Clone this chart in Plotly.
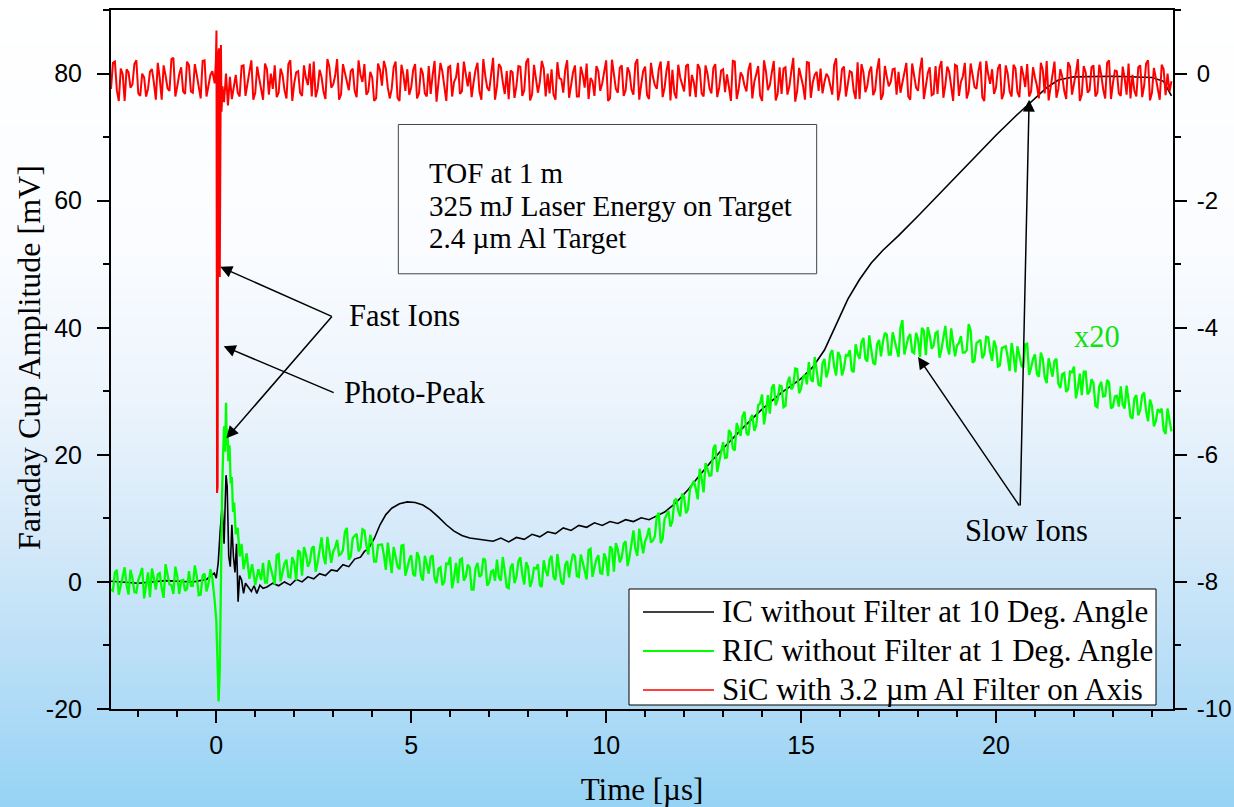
import base64, struct, zlib
import plotly.graph_objects as go

# ---------------- data ----------------
# IC without filter (black), left axis [mV]
ic_t = [-2.7, -2.0, -1.3, -0.6, -0.25, -0.05, 0.0, 0.05, 0.1, 0.15, 0.2, 0.25, 0.28, 0.32, 0.36, 0.4,
        0.44, 0.48, 0.52, 0.56, 0.6, 0.65, 0.7, 0.75, 0.82, 0.9, 0.97, 1.04, 1.12, 1.2,
        1.3, 1.45, 1.6, 1.75, 1.9, 2.05, 2.2, 2.35, 2.5, 2.65, 2.8, 2.95, 3.1, 3.25, 3.4, 3.55, 3.7,
        3.8, 3.9, 4.05, 4.2, 4.35, 4.5, 4.7, 4.9, 5.1, 5.3, 5.5, 5.7, 5.9, 6.1, 6.3, 6.5, 6.8,
        7.1, 7.3, 7.5, 7.7, 7.9, 8.1, 8.3, 8.5, 8.7, 8.9, 9.1, 9.3, 9.5, 9.7, 9.9, 10.1, 10.3, 10.5,
        10.7, 10.9, 11.1, 11.3, 11.5, 11.8, 12.1, 12.4, 12.7, 13.0, 13.5, 14.0, 14.5, 15.0, 15.3,
        15.6, 15.9, 16.2, 16.5, 16.8, 17.1, 17.5, 18.0, 18.5, 19.0, 19.5, 20.0, 20.5, 21.0, 21.3,
        21.6, 22.0, 23.0, 24.0, 24.3, 24.5]
ic_v = [0.1, -0.2, 0.2, 0.0, 0.4, 1.4, 0.6, 3.0, 8.0, 12.0, 6.0, 16.8, 15.0, 4.0, 2.4, 9.0,
        4.0, 1.5, 6.0, -3.1, 1.0, 0.3, -1.8, -0.2, -0.8, -1.5, -0.6, -1.8, -0.5, -1.0,
        -0.8, -0.2, -0.6, 0.0, -0.5, 0.4, 0.0, 0.8, 0.5, 1.3, 1.0, 1.9, 1.7, 2.7, 2.4, 3.6, 3.9,
        4.8, 5.2, 6.8, 9.0, 10.6, 11.6, 12.3, 12.6, 12.5, 12.1, 11.3, 10.2, 9.0, 8.0, 7.3, 6.9, 6.6,
        6.4, 6.9, 6.3, 7.0, 6.7, 7.5, 7.1, 7.9, 7.6, 8.5, 8.1, 8.9, 8.6, 9.3, 8.9, 9.5, 9.2, 9.8,
        9.5, 10.1, 9.8, 10.4, 11.0, 12.5, 14.5, 16.8, 19.0, 21.0, 24.2, 27.2, 29.8, 32.0, 33.8,
        36.5, 40.5, 44.5, 47.6, 50.2, 52.2, 54.5, 57.6, 60.8, 64.0, 67.2, 70.3, 73.3, 76.2, 77.8,
        79.0, 79.5, 79.6, 79.4, 78.8, 76.5]

# oscilloscope sample spacing for the noisy traces [us]
SAMPLE_STEP = 0.05

# RIC without filter (green), left axis [mV]
ric_pre_start = -2.7
ric_pre = [-1.2, -1.4, 1.5, 1.9, -2.0, -0.8, 0.8, 2.3, -0.5, -2.0, 1.9, 0.6, -1.6, -1.7, 0.3, 1.2,
           2.2, -2.6, -0.8, 1.5, -2.4, 2.1, 0.6, -1.2, 1.2, 1.4, -1.0, -2.5, 2.8, 0.9, -0.4, -0.5,
           -1.9, 2.4, 1.0, -1.9, 0.2, 0.3, -1.4, -1.1, 1.7, -0.6, -0.6, 2.6, 0.9, -2.1, -2.0, 1.0,
           1.3, -1.5, -0.3, 2.0, 0.5]
ric_burst_t = [-0.04, 0.0, 0.03, 0.06, 0.09, 0.11, 0.13, 0.15, 0.17, 0.2, 0.23, 0.25, 0.27, 0.29, 0.31,
               0.34, 0.37, 0.4, 0.43, 0.46, 0.5, 0.55, 0.6, 0.65, 0.7, 0.78, 0.85, 0.92, 1.0, 1.08, 1.15]
ric_burst_v = [-3.0, -6.0, -12.0, -18.8, -14.0, -2.0, 8.5, 14.0, 19.0, 24.5, 20.5, 28.2, 21.5, 24.0, 19.0,
               21.5, 15.5, 16.5, 11.0, 12.5, 7.5, 8.5, 4.0, 6.0, 2.0, 4.5, 0.5, 2.8, -0.5, 2.0, 0.3]
ric_post_start = 1.2
ric_post = [
    3.0, -0.1, -0.1, 3.4, 2.2, 0.9, -0.4, 4.2, 4.4, 0.1, 1.8, 2.9, 3.5, 0.8, 0.7, 3.9, 3.0, 0.3, 5.0, 4.6,
    1.0, 5.5, 4.4, 2.4, 3.1, 5.3, 5.6, 1.6, 3.0, 5.2, 7.0, 4.0, 2.8, 7.1, 5.2, 3.0, 4.8, 5.4, 6.6, 4.2,
    4.4, 5.0, 7.9, 8.5, 3.5, 4.0, 6.9, 7.3, 7.6, 4.8, 5.4, 8.3, 8.1, 5.8, 4.3, 7.4, 6.3, 3.2, 3.2, 5.8,
    5.8, 5.9, 4.2, 1.9, 6.2, 4.1, 1.4, 5.5, 4.1, 2.4, 2.0, 5.7, 5.8, 1.0, 2.1, 3.5, 4.2, 1.2, 0.9, 4.7,
    3.9, 1.0, 0.2, 4.1, 2.8, 1.3, 3.9, 4.2, 0.5, -0.2, 2.1, 2.3, -0.5, 0.0, 2.9, 2.8, 3.9, -1.0, 0.7, 3.0,
    -0.2, 3.5, 3.7, 0.2, 0.8, 2.7, 2.3, -1.2, -1.2, 2.2, 3.0, 0.8, 1.1, 3.7, 3.4, -0.6, -0.1, 1.6, 1.8, 0.2,
    3.5, 0.7, 0.2, 3.9, 1.7, -0.8, -1.0, 2.3, 2.9, -0.2, 0.8, 3.3, 3.9, 1.1, -0.4, 3.1, 2.3, -0.8, 0.2, 2.2,
    2.1, 2.8, -0.5, -0.8, 3.4, 1.8, 0.9, 3.5, 4.1, 0.8, 0.3, 4.4, 2.1, 0.0, -0.4, 2.7, 3.3, 0.7, 2.9, 4.4,
    4.0, 0.9, 0.8, 4.3, 3.1, 1.7, 0.4, 5.0, 5.2, 0.8, 2.5, 3.6, 4.2, 1.4, 1.3, 4.5, 3.6, 0.9, 5.6, 5.2,
    1.6, 6.1, 5.1, 3.1, 3.8, 6.0, 6.4, 2.5, 3.9, 6.2, 8.1, 5.2, 4.1, 8.4, 6.6, 4.5, 6.4, 7.2, 8.5, 6.2,
    6.5, 7.2, 10.3, 10.9, 6.1, 6.8, 9.9, 10.5, 11.2, 8.7, 9.6, 12.8, 13.1, 11.2, 10.3, 13.9, 13.4, 10.8, 11.4, 14.6,
    15.2, 15.9, 14.7, 13.0, 17.8, 16.3, 14.1, 18.7, 17.8, 16.7, 16.8, 21.0, 21.6, 17.3, 18.9, 20.8, 22.0, 19.5, 19.6, 23.9,
    23.4, 21.0, 20.7, 25.0, 24.1, 23.0, 26.1, 26.8, 23.4, 23.1, 25.7, 26.3, 23.8, 24.6, 27.8, 28.1, 29.5, 24.8, 26.8, 29.4,
    26.5, 30.6, 31.1, 27.8, 28.7, 30.9, 30.8, 27.5, 27.7, 31.3, 32.3, 30.3, 30.8, 33.6, 33.5, 29.7, 30.4, 32.2, 32.6, 31.1,
    34.6, 31.9, 31.5, 35.4, 33.3, 31.0, 30.9, 34.4, 35.1, 32.2, 33.3, 35.9, 36.5, 33.9, 32.5, 36.2, 35.5, 32.5, 33.6, 35.7,
    35.6, 36.5, 33.3, 33.0, 37.4, 35.9, 35.1, 37.7, 38.4, 35.1, 34.7, 38.8, 36.6, 34.5, 34.2, 37.4, 38.1, 35.5, 37.8, 39.2,
    38.9, 35.8, 35.8, 39.3, 38.0, 36.7, 35.4, 40.0, 41.2, 35.8, 37.4, 38.5, 39.0, 36.2, 36.0, 39.2, 38.2, 35.4, 40.0, 39.5,
    35.7, 40.1, 38.8, 36.7, 37.2, 39.2, 39.4, 35.3, 36.6, 38.6, 40.3, 37.1, 35.8, 39.9, 37.9, 35.5, 37.2, 37.6, 38.7, 36.1,
    36.1, 36.5, 40.6, 39.6, 34.5, 34.8, 37.6, 37.8, 38.1, 35.2, 35.8, 38.6, 38.5, 36.2, 34.8, 38.0, 37.0, 33.9, 34.1, 36.8,
    36.9, 37.1, 35.4, 33.2, 37.6, 35.7, 33.0, 37.1, 35.7, 34.1, 33.7, 37.4, 37.5, 32.6, 33.7, 35.1, 35.8, 32.7, 32.3, 36.1,
    35.1, 32.2, 31.3, 35.2, 33.8, 32.3, 34.8, 35.1, 31.2, 30.5, 32.7, 32.9, 29.9, 30.3, 33.1, 33.0, 33.9, 28.9, 30.5, 32.8,
    29.4, 33.1, 33.1, 29.5, 30.0, 31.9, 31.3, 27.7, 27.5, 30.8, 31.5, 29.2, 29.3, 31.8, 31.4, 27.3, 27.6, 29.2, 29.3, 27.6,
    30.8, 27.9, 27.3, 30.9, 28.6, 26.0, 25.7, 28.9, 29.4, 26.2, 27.1, 29.4, 29.8, 26.9, 25.3, 28.7, 27.7, 24.5, 25.3, 27.2,
    26.8, 27.3, 23.9, 23.3, 27.3, 25.4, 23.7]

# SiC with 3.2 um Al filter (red), right axis
sic_pre_start = -2.7
sic_pre = [-0.24, 0.17, 0.19, -0.26, -0.43, 0.08, -0.01, -0.43, 0.07, 0.02, -0.22, -0.17, 0.15, 0.21,
           -0.31, -0.35, 0.00, -0.06, -0.36, -0.24, 0.03, 0.07, -0.14, -0.41, 0.17, -0.07, -0.41, 0.13,
           -0.03, -0.23, -0.27, 0.23, 0.25, -0.36, -0.20, -0.01, 0.10, -0.28, -0.32, 0.19, 0.13, -0.28,
           -0.30, 0.15, -0.02, -0.20, -0.39, 0.20, 0.21, -0.36, -0.15, -0.02, 0.04]
sic_burst_t = [-0.04, -0.01, 0.005, 0.02, 0.035, 0.05, 0.07, 0.09, 0.105, 0.12, 0.135, 0.16, 0.2,
               0.25, 0.3, 0.35, 0.4, 0.45]
sic_burst_v = [-0.15, 0.2, 0.68, -6.6, -6.5, 0.3, 0.4, -3.2, -0.1, 0.45, -0.6, -0.2, -0.45,
               0.0, -0.5, -0.05, -0.4, -0.2]
sic_post_start = 0.5
sic_post = [
    -0.02, -0.30, -0.36, 0.12, 0.13, -0.35, -0.19, 0.03, 0.21, -0.41, -0.30, 0.11, -0.07, -0.28, -0.41, 0.16, 0.07, -0.33, 0.00, -0.24,
    0.13, -0.37, -0.30, 0.08, -0.02, -0.26, -0.39, 0.15, 0.21, -0.43, -0.15, 0.02, 0.04, -0.30, -0.35, 0.13, -0.07, -0.18, 0.16, -0.36,
    0.19, -0.37, -0.24, 0.06, -0.05, -0.28, -0.40, 0.23, 0.11, -0.22, -0.17, -0.03, 0.23, -0.41, -0.33, 0.15, 0.02, -0.14, -0.26, 0.04,
    0.08, -0.27, -0.37, 0.21, -0.02, -0.13, 0.15, -0.33, -0.28, 0.03, -0.06, -0.43, -0.39, 0.16, 0.06, -0.19, 0.20, 0.08, -0.22, -0.39,
    -0.24, 0.10, 0.19, -0.38, -0.43, 0.14, -0.01, -0.27, 0.07, -0.33, -0.22, 0.06, 0.15, -0.39, -0.31, 0.09, 0.00, -0.31, -0.36, 0.12,
    -0.32, -0.02, 0.20, -0.44, -0.18, 0.17, 0.03, -0.23, -0.43, 0.10, 0.12, -0.36, -0.13, -0.06, 0.17, -0.32, -0.28, 0.19, -0.04, -0.20,
    0.03, -0.37, -0.14, 0.06, 0.17, -0.28, -0.41, 0.23, -0.03, -0.22, -0.27, -0.03, 0.25, -0.41, -0.20, 0.15, 0.10, -0.14, -0.32, 0.04,
    -0.40, 0.05, 0.02, -0.38, -0.19, 0.12, 0.11, -0.35, -0.26, 0.18, 0.24, -0.42, -0.33, 0.14, -0.05, -0.30, -0.13, 0.20, 0.08, -0.36,
    0.00, -0.31, 0.07, -0.33, -0.41, 0.18, -0.07, -0.09, -0.30, 0.06, 0.21, -0.38, -0.19, 0.02, 0.13, -0.36, -0.36, 0.11, -0.02, -0.22,
    0.16, -0.40, -0.07, -0.12, -0.35, 0.12, 0.04, -0.27, -0.15, 0.01, 0.21, -0.43, -0.39, 0.22, -0.02, -0.24, -0.30, 0.09, 0.13, -0.35,
    -0.26, 0.10, 0.02, -0.25, -0.33, 0.16, 0.23, -0.41, -0.17, 0.04, 0.11, -0.34, -0.40, 0.17, -0.05, -0.18, -0.24, 0.07, 0.19, -0.37,
    -0.22, 0.05, 0.20, -0.42, 0.06, -0.30, -0.39, 0.14, -0.06, -0.17, -0.28, 0.12, 0.15, -0.36, -0.02, -0.14, -0.37, 0.15, 0.08, -0.31,
    -0.36, 0.13, 0.00, -0.23, -0.31, 0.09, 0.15, -0.37, -0.22, 0.05, 0.07, -0.29, -0.01, -0.21, -0.43, 0.20, 0.19, -0.40, -0.24, 0.02,
    -0.04, -0.19, -0.28, 0.06, 0.17, -0.39, -0.13, -0.01, 0.12, -0.35, -0.43, 0.21, 0.03, -0.26, -0.18, 0.02, 0.20, -0.42, -0.32, 0.10,
    -0.32, 0.08, 0.10, -0.33, -0.20, 0.04, 0.25, -0.44, -0.27, 0.09, -0.03, -0.19, -0.41, 0.18, 0.17, -0.38, -0.14, -0.02, 0.03, -0.27,
    0.08, -0.31, -0.13, 0.00, -0.05, -0.20, -0.33, 0.14, 0.24, -0.42, -0.26, 0.07, 0.11, -0.36, -0.19, 0.04, 0.02, -0.27, -0.40, 0.18,
    -0.40, 0.15, 0.02, -0.29, -0.19, 0.03, 0.11, -0.34, -0.26, 0.06, 0.24, -0.41, -0.33, 0.12, -0.05, -0.20, -0.13, 0.07, 0.08, -0.33,
    0.03, -0.30, -0.14, 0.05, 0.17, -0.36, -0.41, 0.16, -0.03, -0.22, -0.27, 0.06, 0.25, -0.40, -0.20, 0.01, 0.10, -0.34, -0.32, 0.12,
    -0.32, 0.09, 0.20, -0.38, -0.18, 0.11, 0.03, -0.25, -0.43, 0.14, 0.12, -0.35, -0.13, -0.04, 0.17, -0.39, -0.28, 0.16, -0.04, -0.21,
    -0.24, 0.04, 0.19, -0.37, -0.43, 0.20, -0.01, -0.16, 0.07, -0.32, -0.22, 0.08, 0.15, -0.40, -0.31, 0.13, 0.00, -0.28, -0.36, 0.14,
    0.08, -0.29, -0.37, 0.12, -0.02, -0.21, 0.15, -0.36, -0.28, 0.10, -0.06, -0.19, -0.39, 0.17, 0.06, -0.31, 0.20, -0.42, -0.22, 0.03,
    0.19, -0.38, -0.24, 0.07, -0.05, -0.27, -0.40, 0.18, 0.11, -0.33, -0.17, 0.01, 0.23, -0.43, -0.33, 0.12, 0.02, -0.30, -0.26, 0.10,
    0.13, -0.36, -0.30, 0.14, -0.02, -0.25, -0.39, 0.17, 0.21, -0.40, -0.15, 0.05, 0.04, -0.31, -0.35, 0.11, -0.07, -0.33, 0.16, -0.39,
    -0.02, -0.27, -0.36, 0.10, 0.13, -0.37, -0.19, 0.16, 0.21, -0.42, -0.30, 0.09, -0.07, -0.23, -0.41, 0.14, 0.07, -0.34, 0.00, -0.28,
    -0.12]

series_names = ["IC without Filter at 10 Deg. Angle",
                "RIC without Filter at 1 Deg. Angle",
                "SiC with 3.2 µm Al Filter on Axis"]
series_colors = ["#000000", "#00ff00", "#ff0000"]
info_lines = ["TOF at 1 m", "325 mJ Laser Energy on Target", "2.4 µm Al Target"]
left_ticks = [-20, 0, 20, 40, 60, 80]
right_ticks = [-10, -8, -6, -4, -2, 0]
x_ticks = [0, 5, 10, 15, 20]


def sample_times(start, n):
    return [round(start + SAMPLE_STEP * i, 4) for i in range(n)]


ric_t = sample_times(ric_pre_start, len(ric_pre)) + ric_burst_t + sample_times(ric_post_start, len(ric_post))
ric_v = ric_pre + ric_burst_v + ric_post
sic_t = sample_times(sic_pre_start, len(sic_pre)) + sic_burst_t + sample_times(sic_post_start, len(sic_post))
sic_v = sic_pre + sic_burst_v + sic_post

# ---------------- background gradient image ----------------
W, H = 1234, 807
ML, MR, MT, MB = 111, 61, 10, 98
PW, PH = W - ML - MR, H - MT - MB
stops = [(0, (255, 255, 255)), (250, (250, 252, 255)), (400, (236, 244, 252)),
         (550, (210, 232, 249)), (700, (176, 219, 246)), (807, (150, 211, 244))]


def gradient_png(h, stops, w=4):
    raw = b""
    for y in range(h):
        for i in range(len(stops) - 1):
            if stops[i][0] <= y <= stops[i + 1][0]:
                y0, c0 = stops[i]
                y1, c1 = stops[i + 1]
                f = (y - y0) / (y1 - y0)
                c = [int(round(c0[k] + (c1[k] - c0[k]) * f)) for k in range(3)]
                break
        raw += b"\x00" + bytes(c) * w

    def chunk(typ, data):
        return struct.pack(">I", len(data)) + typ + data + struct.pack(">I", zlib.crc32(typ + data) & 0xffffffff)

    png = (b"\x89PNG\r\n\x1a\n" + chunk(b"IHDR", struct.pack(">IIBBBBB", w, h, 8, 2, 0, 0, 0))
           + chunk(b"IDAT", zlib.compress(raw)) + chunk(b"IEND", b""))
    return "data:image/png;base64," + base64.b64encode(png).decode()


def px(xp):   # pixel column -> paper x
    return (xp - ML) / PW


def py(yp):   # pixel row -> paper y
    return (H - MB - yp) / PH


SERIF = "Liberation Serif, Times New Roman, serif"
SANS = "Liberation Sans, Arial, sans-serif"

fig = go.Figure()
fig.add_trace(go.Scatter(x=ic_t, y=ic_v, mode="lines", name=series_names[0],
                         line=dict(color=series_colors[0], width=1.6)))
fig.add_trace(go.Scatter(x=ric_t, y=ric_v, mode="lines", name=series_names[1],
                         line=dict(color=series_colors[1], width=2.3)))
fig.add_trace(go.Scatter(x=sic_t, y=sic_v, mode="lines", name=series_names[2], yaxis="y2",
                         line=dict(color=series_colors[2], width=2.0)))

axis_common = dict(showline=True, linecolor="black", linewidth=2, ticks="outside", ticklen=12,
                   tickwidth=2, tickcolor="black", showgrid=False, zeroline=False, automargin=False)


def minor(dt, t0=0):
    return dict(ticks="outside", ticklen=6, tickwidth=2, tickcolor="black", tickmode="linear",
                tick0=t0, dtick=dt, showgrid=False)


fig.update_layout(
    width=W, height=H,
    margin=dict(l=ML, r=MR, t=MT, b=MB, pad=0, autoexpand=False),
    paper_bgcolor="white", plot_bgcolor="rgba(0,0,0,0)",
    showlegend=False,
    xaxis=dict(range=[-2.7, 24.54], tickmode="array", tickvals=x_ticks,
               ticktext=[str(v) for v in x_ticks], mirror=True, minor=minor(1),
               ticklabelstandoff=1, tickfont=dict(family=SANS, size=25, color="black"),
               title=dict(text="Time [µs]", font=dict(family=SERIF, size=31, color="black"), standoff=24),
               **axis_common),
    yaxis=dict(range=[-20, 90.02], tickmode="array", tickvals=left_ticks,
               ticktext=[str(v) for v in left_ticks], minor=minor(10), ticklabelstandoff=10,
               tickfont=dict(family=SANS, size=25, color="black"),
               **axis_common),
    yaxis2=dict(range=[-10, 1.002], tickmode="array", tickvals=right_ticks,
                ticktext=[str(v) for v in right_ticks], overlaying="y", side="right",
                minor=minor(1), ticklabelstandoff=5, tickfont=dict(family=SANS, size=24, color="black"),
                **axis_common),
    images=[dict(source=gradient_png(H, stops), xref="paper", yref="paper",
                 x=-ML / PW, y=1 + MT / PH, sizex=W / PW, sizey=H / PH,
                 xanchor="left", yanchor="top", sizing="stretch", layer="below")],
)

# left axis title
fig.add_annotation(x=px(29), y=py(358), xref="paper", yref="paper", text="Faraday Cup Amplitude [mV]",
                   textangle=-90, showarrow=False, xanchor="center", yanchor="middle",
                   font=dict(family=SERIF, size=32, color="black"))

# legend box (drawn as in the original figure)
fig.add_shape(type="rect", xref="paper", yref="paper", x0=px(629), x1=px(1156), y0=py(705), y1=py(589),
              line=dict(color="black", width=1), fillcolor="white", layer="above")
for name, col, w, row_y in zip(series_names, series_colors, [1.5, 2.0, 1.5], [612, 651, 690]):
    fig.add_shape(type="line", xref="paper", yref="paper", x0=px(643), x1=px(714), y0=py(row_y), y1=py(row_y),
                  line=dict(color=col, width=w), layer="above")
    fig.add_annotation(x=px(720), y=py(row_y - 1), xref="paper", yref="paper", text=name, showarrow=False,
                       xanchor="left", yanchor="middle", font=dict(family=SERIF, size=31, color="black"))

# info box
fig.add_shape(type="rect", xref="x", yref="y", x0=4.67, x1=15.4, y0=48.5, y1=72.0,
              line=dict(color="#444444", width=1), fillcolor="rgba(0,0,0,0)", layer="above")
for txt, yy in zip(info_lines, [64.4, 59.1, 54.1]):
    fig.add_annotation(x=5.40, y=yy, xref="x", yref="y", text=txt, showarrow=False,
                       xanchor="left", yanchor="middle", font=dict(family=SERIF, size=29, color="black"))

# labels
labels = [("Fast Ions", 3.35, 41.9, "left", "black"),
          ("Photo-Peak", 3.23, 29.8, "left", "black"),
          ("Slow Ions", 20.77, 8.0, "center", "black"),
          ("x20", 22.59, 38.6, "center", "#11e011")]
for txt, xx, yy, anc, col in labels:
    fig.add_annotation(x=xx, y=yy, xref="x", yref="y", text=txt, showarrow=False,
                       xanchor=anc, yanchor="middle", font=dict(family=SERIF, size=30.5, color=col))

# arrows: (head x, head y, tail x, tail y)
arrows = [(0.10, 49.6, 3.0, 41.7),
          (0.26, 22.6, 3.0, 42.0),
          (0.19, 37.1, 3.05, 29.7),
          (18.0, 35.4, 20.62, 11.8),
          (20.85, 75.9, 20.62, 11.8)]
for hx, hy, tx, ty in arrows:
    fig.add_annotation(x=hx, y=hy, ax=tx, ay=ty, xref="x", yref="y", axref="x", ayref="y",
                       text="", showarrow=True, arrowhead=2, arrowsize=1.6, arrowwidth=1.5,
                       arrowcolor="black", standoff=0, startstandoff=0)

fig.write_html("out.html")
